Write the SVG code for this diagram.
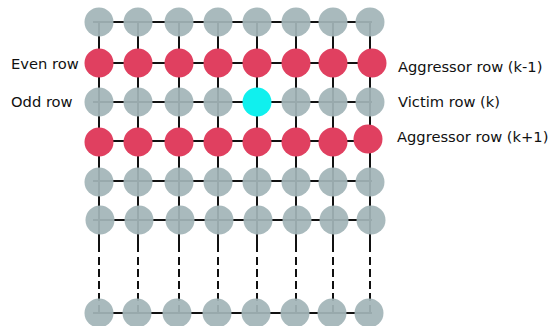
<svg xmlns="http://www.w3.org/2000/svg" width="552" height="326" viewBox="0 0 552 326">
<style>
.ln{stroke:#111;stroke-width:2;fill:none}
.dash{stroke:#111;stroke-width:2;fill:none;stroke-dasharray:8 4}
.g{fill:#a2b5b8;fill-opacity:0.93}
.r{fill:#e04060}
.c{fill:#10f0ee}
text{font-family:"DejaVu Sans",sans-serif;font-size:14.7px;fill:#111}
</style>
<rect width="552" height="326" fill="#fff"/>
<g id="connectors">
<path class="ln" d="M93 22H372M93 63H372M93 102H372M93 141H372M93 181H372M93 220H372M93 313H372"/>
<path class="ln" d="M99 22V252M138 22V252M179 22V252M218 22V252M257 22V252M296 22V252M333 22V252M370 22V252"/>
<path class="dash" d="M99 257V313M138 257V313M179 257V313M218 257V313M257 257V313M296 257V313M333 257V313M370 257V313"/>
</g>
<g id="row1">
<circle class="g" cx="99" cy="22" r="14.5"/><circle class="g" cx="138" cy="22" r="14.5"/><circle class="g" cx="179" cy="22" r="14.5"/><circle class="g" cx="218" cy="22" r="14.5"/><circle class="g" cx="257" cy="22" r="14.5"/><circle class="g" cx="296" cy="22" r="14.5"/><circle class="g" cx="333" cy="22" r="14.5"/><circle class="g" cx="370" cy="22" r="14.5"/>
</g>
<g id="row2">
<circle class="r" cx="99" cy="63" r="14.5"/><circle class="r" cx="138" cy="63" r="14.5"/><circle class="r" cx="179" cy="63" r="14.5"/><circle class="r" cx="218" cy="63" r="14.5"/><circle class="r" cx="257" cy="63" r="14.5"/><circle class="r" cx="296" cy="63" r="14.5"/><circle class="r" cx="333" cy="63" r="14.5"/><circle class="r" cx="372" cy="63" r="14.5"/>
</g>
<g id="row3">
<circle class="g" cx="99" cy="102" r="14.5"/><circle class="g" cx="138" cy="102" r="14.5"/><circle class="g" cx="179" cy="102" r="14.5"/><circle class="g" cx="218" cy="102" r="14.5"/><circle class="g" cx="296" cy="102" r="14.5"/><circle class="g" cx="333" cy="102" r="14.5"/><circle class="g" cx="370" cy="102" r="14.5"/>
</g>
<g id="victim">
<circle class="c" cx="257" cy="102" r="14.5"/>
</g>
<g id="row4">
<circle class="r" cx="99" cy="142" r="14.5"/><circle class="r" cx="138" cy="142" r="14.5"/><circle class="r" cx="179" cy="142" r="14.5"/><circle class="r" cx="218" cy="142" r="14.5"/><circle class="r" cx="257" cy="142" r="14.5"/><circle class="r" cx="296" cy="142" r="14.5"/><circle class="r" cx="333" cy="142" r="14.5"/><circle class="r" cx="368" cy="139" r="14.5"/>
</g>
<g id="row5">
<circle class="g" cx="99" cy="182" r="14.5"/><circle class="g" cx="138" cy="182" r="14.5"/><circle class="g" cx="179" cy="182" r="14.5"/><circle class="g" cx="218" cy="182" r="14.5"/><circle class="g" cx="257" cy="182" r="14.5"/><circle class="g" cx="296" cy="182" r="14.5"/><circle class="g" cx="333" cy="182" r="14.5"/><circle class="g" cx="370" cy="182" r="14.5"/>
</g>
<g id="row6">
<circle class="g" cx="100" cy="220" r="14.5"/><circle class="g" cx="139" cy="220" r="14.5"/><circle class="g" cx="180" cy="220" r="14.5"/><circle class="g" cx="219" cy="220" r="14.5"/><circle class="g" cx="258" cy="220" r="14.5"/><circle class="g" cx="297" cy="220" r="14.5"/><circle class="g" cx="334" cy="220" r="14.5"/><circle class="g" cx="371" cy="220" r="14.5"/>
</g>
<g id="rowN">
<circle class="g" cx="99" cy="313" r="14.5"/><circle class="g" cx="137" cy="313" r="14.5"/><circle class="g" cx="177" cy="313" r="14.5"/><circle class="g" cx="217" cy="313" r="14.5"/><circle class="g" cx="256" cy="313" r="14.5"/><circle class="g" cx="295" cy="313" r="14.5"/><circle class="g" cx="332" cy="313" r="14.5"/><circle class="g" cx="369" cy="313" r="14.5"/>
</g>
<g id="labels">
<text x="11" y="69">Even row</text>
<text x="11" y="107">Odd row</text>
<text x="398" y="72">Aggressor row (k-1)</text>
<text x="398" y="107">Victim row (k)</text>
<text x="397" y="142">Aggressor row (k+1)</text>
</g>
</svg>
